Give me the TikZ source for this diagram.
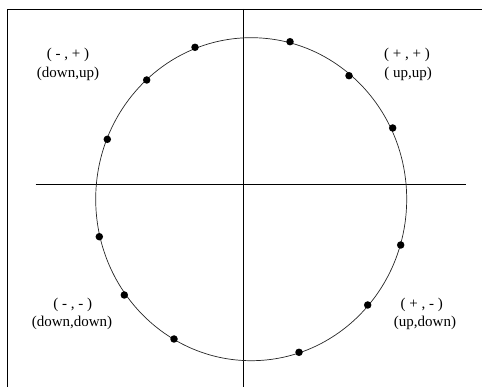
\documentclass[tikz,border=0pt]{standalone}
\usepackage{fontspec}
\setmainfont{Liberation Serif}
\begin{document}
\begin{tikzpicture}[x=1pt,y=-1pt,
  axis/.style={line width=0.8pt,black},
  ring/.style={line width=0.7pt,black!85},
  pt/.style={circle,fill=black,inner sep=0pt,minimum size=7.5pt},
  lbl/.style={align=center,font=\fontsize{15}{18}\selectfont,inner sep=0pt}]
\useasboundingbox (0,0) rectangle (482,387);
% frame (top and left edges)
\draw[axis] (482,9) -- (7,9) -- (7,387);
% axes
\draw[axis] (243.3,9) -- (243.3,387);
\draw[axis] (35.7,184.3) -- (465.7,184.3);
% circle
\draw[ring] (251.2,199.2) ellipse [x radius=155.5, y radius=161.5];
% dots
\node[pt] (d1) at (195,47.3) {};
\node[pt] (d2) at (290,41.7) {};
\node[pt] (d3) at (146.7,80) {};
\node[pt] (d4) at (349,75.7) {};
\node[pt] (d5) at (107.3,139.3) {};
\node[pt] (d6) at (392.7,128) {};
\node[pt] (d7) at (99.3,236.7) {};
\node[pt] (d8) at (400.7,245) {};
\node[pt] (d9) at (124.3,295) {};
\node[pt] (d10) at (367.7,305) {};
\node[pt] (d11) at (174,339) {};
\node[pt] (d12) at (299,352.3) {};
% labels
\node[lbl] (q2a) at (68,55) {( - , + )};
\node[lbl] (q2b) at (68,74) {(down,up)};
\node[lbl] (q1a) at (407,55) {( + , + )};
\node[lbl] (q1b) at (408,74) {( up,up)};
\node[lbl] (q3a) at (72.7,305) {( - , - )};
\node[lbl] (q3b) at (72,323) {(down,down)};
\node[lbl] (q4a) at (421.7,305) {( + , - )};
\node[lbl] (q4b) at (425,323) {(up,down)};
\end{tikzpicture}
\end{document}
